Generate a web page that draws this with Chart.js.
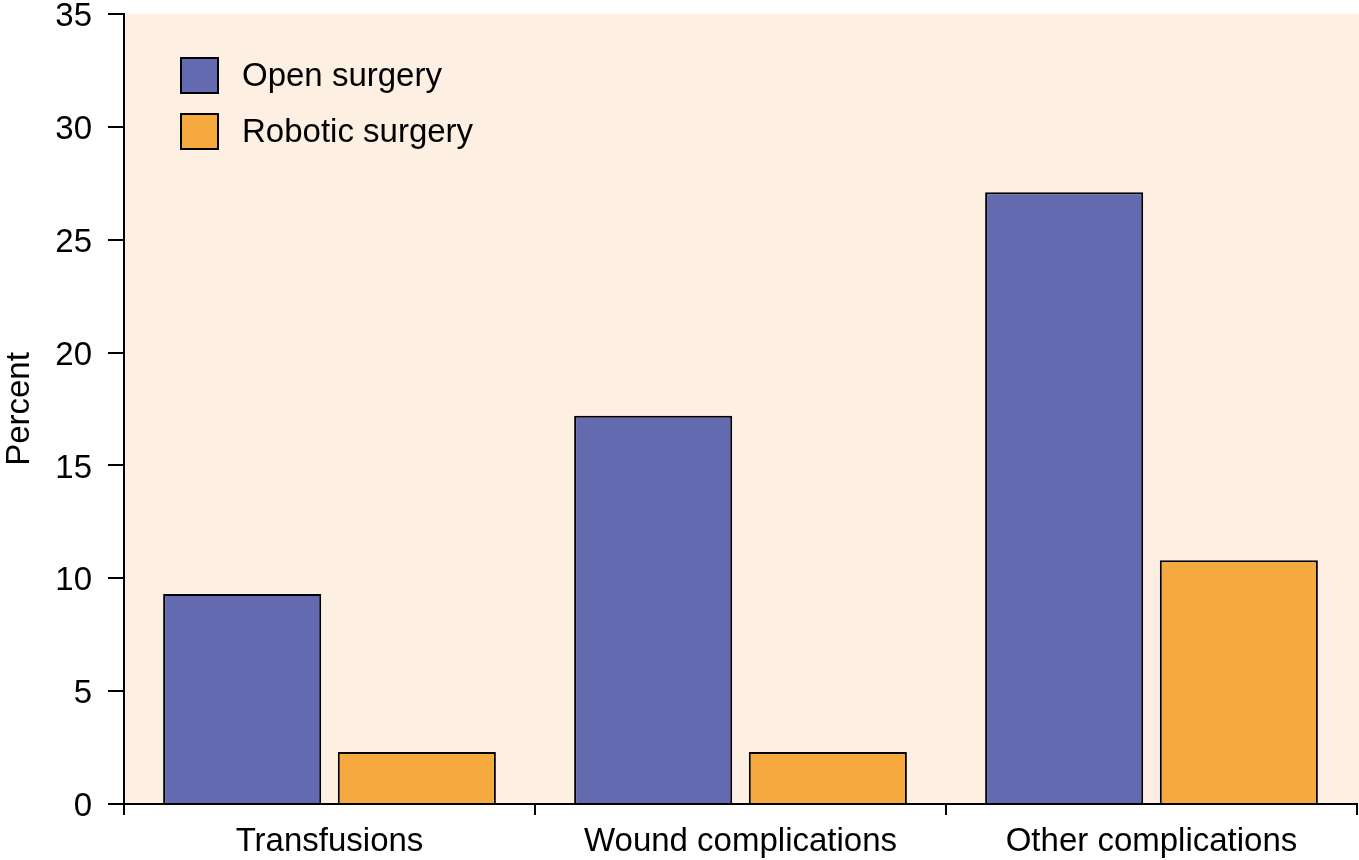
<!DOCTYPE html>
<html>
<head>
<meta charset="utf-8">
<title>Complications: open vs robotic surgery</title>
<script src="https://cdn.jsdelivr.net/npm/chart.js@4.4.1/dist/chart.umd.min.js"></script>
<style>
  html, body { margin: 0; padding: 0; background: #ffffff; }
  #chart { display: block; }
</style>
</head>
<body>
<canvas id="chart" width="1359" height="860"></canvas>
<script>
// data
const categories = ["Transfusions", "Wound complications", "Other complications"];
const openSurgery = [9.3, 17.2, 27.1];
const roboticSurgery = [2.3, 2.3, 10.8];
const seriesNames = ["Open surgery", "Robotic surgery"];
const yTicks = [0, 5, 10, 15, 20, 25, 30, 35];

const fontFamily = "'Liberation Sans', Arial, Helvetica, sans-serif";
const fontSize = 33;
const textColor = "#000000";

// peach background behind the plot area (runs to the right edge of the canvas)
const plotBackground = {
  id: "plotBackground",
  beforeDraw(chart) {
    const { ctx, chartArea } = chart;
    ctx.save();
    ctx.fillStyle = "#fdf0e3";
    ctx.fillRect(chartArea.left, chartArea.top, chart.width - chartArea.left, chartArea.bottom - chartArea.top);
    ctx.restore();
  },
};

// legend drawn inside the plot area, top left
const insideLegend = {
  id: "insideLegend",
  afterDatasetsDraw(chart) {
    const { ctx, chartArea } = chart;
    const boxW = 37, boxH = 35, rowGap = 56;
    const x0 = chartArea.left + 57;
    const y0 = chartArea.top + 44;
    ctx.save();
    ctx.font = fontSize + "px " + fontFamily;
    ctx.textBaseline = "middle";
    ctx.textAlign = "left";
    chart.data.datasets.forEach((ds, i) => {
      const y = y0 + i * rowGap;
      ctx.fillStyle = ds.backgroundColor;
      ctx.fillRect(x0, y, boxW, boxH);
      ctx.lineWidth = 2;
      ctx.strokeStyle = "#000000";
      ctx.strokeRect(x0, y, boxW, boxH);
      ctx.fillStyle = textColor;
      ctx.fillText(ds.label, x0 + 61, y + boxH / 2 + 1);
    });
    ctx.restore();
  },
};

new Chart(document.getElementById("chart"), {
  type: "bar",
  data: {
    labels: categories,
    datasets: [
      {
        label: seriesNames[0],
        data: openSurgery,
        backgroundColor: "#646aaf",
        borderColor: "#000000",
        borderWidth: 2,
        categoryPercentage: 0.85,
        barPercentage: 0.905,
      },
      {
        label: seriesNames[1],
        data: roboticSurgery,
        backgroundColor: "#f6a93f",
        borderColor: "#000000",
        borderWidth: 2,
        categoryPercentage: 0.85,
        barPercentage: 0.905,
      },
    ],
  },
  options: {
    responsive: false,
    animation: false,
    devicePixelRatio: 1,
    layout: { padding: { top: 14, right: 2, left: 0, bottom: 0 } },
    plugins: {
      legend: { display: false },
      tooltip: { enabled: false },
    },
    scales: {
      x: {
        offset: true,
        grid: {
          offset: true,
          drawOnChartArea: false,
          drawTicks: true,
          tickLength: 11,
          color: "#000000",
          lineWidth: 2,
        },
        border: { display: true, color: "#000000", width: 2 },
        ticks: {
          color: textColor,
          padding: 7,
          font: { family: fontFamily, size: fontSize },
          maxRotation: 0,
        },
        afterFit(scale) {
          scale.height = 56;
          scale.paddingLeft = 0;
          scale.paddingRight = 0;
        },
      },
      y: {
        min: 0,
        max: 35,
        afterBuildTicks(scale) {
          scale.ticks = yTicks.map((v) => ({ value: v }));
        },
        grid: {
          drawOnChartArea: false,
          drawTicks: true,
          tickLength: 16,
          color: "#000000",
          lineWidth: 2,
        },
        border: { display: true, color: "#000000", width: 2 },
        ticks: {
          color: textColor,
          padding: 16,
          labelOffset: 3,
          font: { family: fontFamily, size: fontSize },
        },
        title: {
          display: true,
          text: "Percent",
          color: textColor,
          font: { family: fontFamily, size: fontSize },
          padding: { top: 0, bottom: 0 },
        },
        afterFit(scale) {
          scale.width = 124;
          scale.paddingTop = 0;
          scale.paddingBottom = 0;
        },
      },
    },
  },
  plugins: [plotBackground, insideLegend],
});
</script>
</body>
</html>
